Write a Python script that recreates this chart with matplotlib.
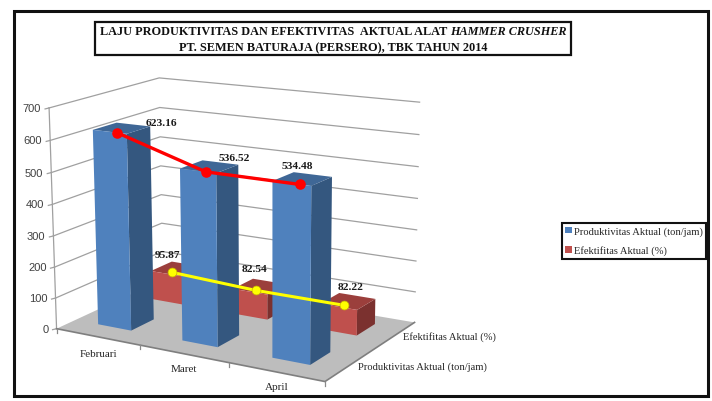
import numpy as np
import matplotlib
matplotlib.use("Agg")
import matplotlib.pyplot as plt
from matplotlib.patches import Polygon, Rectangle, Patch

categories = ["Februari", "Maret", "April"]
series_names = ["Produktivitas Aktual (ton/jam)", "Efektifitas Aktual (%)"]
produktivitas = [623.16, 536.52, 534.48]
efektifitas = [95.87, 82.54, 82.22]
y_ticks = [0, 100, 200, 300, 400, 500, 600, 700]

SERIF = "Liberation Serif"
SANS = "Liberation Sans"

# Camera fitted to the chart box corners: (category, series, value) -> pixel
world = [(0,0,0),(3,0,0),(3,2,0),(0,2,0),(0,0,700),(3,2,700),(0,2,700),(1,0,0),(2,0,0)]
pix = [(57,329),(325,382),(415,322),(163,281),(50,108),(420,104),(158,79),(140,347),(228,365)]
rows = []
for (u, v, z), (x, y) in zip(world, pix):
    z = z / 100
    rows.append([u, v, z, 1, 0, 0, 0, 0, -x*u, -x*v, -x*z, -x])
    rows.append([0, 0, 0, 0, u, v, z, 1, -y*u, -y*v, -y*z, -y])
M = np.linalg.svd(np.array(rows, float))[2][-1].reshape(3, 4)

def P(u, v, z):
    h = M @ np.array([u, v, z / 100, 1.0])
    return h[0] / h[2], h[1] / h[2]

fig = plt.figure(figsize=(7.12, 4.02), dpi=100)
ax = fig.add_axes([0, 0, 1, 1])
ax.set_xlim(0, 712)
ax.set_ylim(402, 0)
ax.axis("off")

# outer frame
ax.add_patch(Rectangle((14, 12), 694, 385, fill=False, ec="#111111", lw=2.2, zorder=1))

# gridlines on the two walls
GRID = "#a0a0a0"
for t in y_ticks[1:]:
    xs, ys = zip(P(0, 0, t), P(0, 2, t), P(3, 2, t))
    ax.plot(xs, ys, color=GRID, lw=0.9, zorder=2)

xs, ys = zip(P(0, 0, 0), P(0, 0, 700))
ax.plot(xs, ys, color=GRID, lw=0.9, zorder=2)

# tick labels
for t in y_ticks:
    x, y = P(0, 0, t)
    ax.plot([x - 4, x], [y + 1, y], color=GRID, lw=0.9, zorder=2)
    ax.annotate(str(t), (x, y), xytext=(-8, 0),
                textcoords="offset pixels", ha="right", va="center",
                fontsize=8, color="#404040", family=SANS, zorder=8)

# floor
floor = [P(0, 0, 0), P(3, 0, 0), P(3, 2, 0), P(0, 2, 0)]
ax.add_patch(Polygon(floor, closed=True, fc="#bdbdbd", ec="none", zorder=3))
xs, ys = zip(P(0, 0, 0), P(3, 0, 0), P(3, 2, 0))
ax.plot(xs, ys, color="#7f7f7f", lw=1.2, zorder=3)
for i in range(4):
    x, y = P(i, 0, 0)
    ax.plot([x, x], [y, y + 4], color="#8a8a8a", lw=0.9, zorder=3)

def bar(i, s, value, front, side, top, z):
    u0, u1 = i + 0.28, i + 0.68
    v0, v1 = s + 0.33, s + 0.75
    ax.add_patch(Polygon([P(u1, v0, 0), P(u1, v1, 0), P(u1, v1, value), P(u1, v0, value)],
                         fc=side, ec="none", zorder=z))
    ax.add_patch(Polygon([P(u0, v0, value), P(u1, v0, value), P(u1, v1, value), P(u0, v1, value)],
                         fc=top, ec="none", zorder=z))
    ax.add_patch(Polygon([P(u0, v0, 0), P(u1, v0, 0), P(u1, v0, value), P(u0, v0, value)],
                         fc=front, ec="none", zorder=z))

for i, val in enumerate(efektifitas):
    bar(i, 1, val, "#bf504d", "#7b312f", "#9b3f3c", 4)
for i, val in enumerate(produktivitas):
    bar(i, 0, val, "#4f81bd", "#34577f", "#3f6796", 5)

# overlay lines with data labels
red_pts = [P(i + 0.565, 0.33, val) for i, val in enumerate(produktivitas)]
yel_pts = [P(i + 0.505, 1.40, val) for i, val in enumerate(efektifitas)]
xs, ys = zip(*red_pts)
ax.plot(xs, ys, "-o", color="#ff0000", lw=2.4, ms=6.6, zorder=6)
xs, ys = zip(*yel_pts)
ax.plot(xs, ys, "-o", color="#ffff00", mec="#c8b400", mew=0.5, lw=2.2, ms=6.4, zorder=6)

red_off = [(44, 10), (29, 14), (-3, 19)]
yel_off = [(-5, 18), (-1, 22), (6, 19)]
for pts, vals, offs in ((red_pts, produktivitas, red_off), (yel_pts, efektifitas, yel_off)):
    for p, val, off in zip(pts, vals, offs):
        ax.annotate(f"{val:.2f}", p, xytext=off, textcoords="offset pixels",
                    ha="center", va="center", fontsize=8.2, fontweight="bold",
                    color="#1a1a1a", family=SERIF, zorder=8)

# category labels
cat_off = [(1, 17), (0, 15), (0, 15)]
for i, name in enumerate(categories):
    x, y = P(i + 0.5, 0, 0)
    ax.annotate(name, (x, y), xytext=(cat_off[i][0], -cat_off[i][1]), textcoords="offset pixels",
                ha="center", va="center", fontsize=8, color="#262626", family=SERIF, zorder=8)

# series labels along the depth axis
for s, name, off in ((1, series_names[1], (9, 0)), (0, series_names[0], (9, -1))):
    x, y = P(3, s + 0.5, 0)
    ax.annotate(name, (x, y), xytext=off, textcoords="offset pixels",
                ha="left", va="center", fontsize=7.6, color="#262626", family=SERIF, zorder=8)

# title box
ax.add_patch(Rectangle((95, 23), 476, 33, fc="white", ec="#111111", lw=1.6, zorder=9))
TFS = 8.85
fig.canvas.draw()
r = fig.canvas.get_renderer()
t1 = ax.text(0, 32, "LAJU PRODUKTIVITAS DAN EFEKTIVITAS  AKTUAL ALAT ", fontsize=TFS, fontweight="bold",
             family=SERIF, va="center", ha="left", zorder=10, color="#111111")
t2 = ax.text(0, 32, "HAMMER CRUSHER", fontsize=TFS, fontweight="bold", style="italic",
             family=SERIF, va="center", ha="left", zorder=10, color="#111111")
w1 = t1.get_window_extent(r).width
w2 = t2.get_window_extent(r).width
x0 = 333 - (w1 + w2) / 2
t1.set_x(x0)
t2.set_x(x0 + w1)
ax.text(333, 48, "PT. SEMEN BATURAJA (PERSERO), TBK TAHUN 2014", fontsize=TFS, fontweight="bold",
        family=SERIF, va="center", ha="center", zorder=10, color="#111111")

# legend
handles = [Patch(fc="#4f81bd", label=series_names[0]), Patch(fc="#c0504d", label=series_names[1])]
leg = ax.legend(handles=handles, loc="upper left", bbox_to_anchor=(562 / 712, 1 - 224 / 402),
                bbox_transform=fig.transFigure, prop={"family": SERIF, "size": 7.6},
                frameon=True, fancybox=False, edgecolor="#111111", framealpha=1,
                handlelength=0.6, handleheight=0.6, handletextpad=0.2, labelspacing=0.9,
                borderpad=0.32, borderaxespad=0, labelcolor="#262626")
leg.get_frame().set_linewidth(1.5)
leg.set_zorder(10)

fig.savefig("out.png", dpi=100)
